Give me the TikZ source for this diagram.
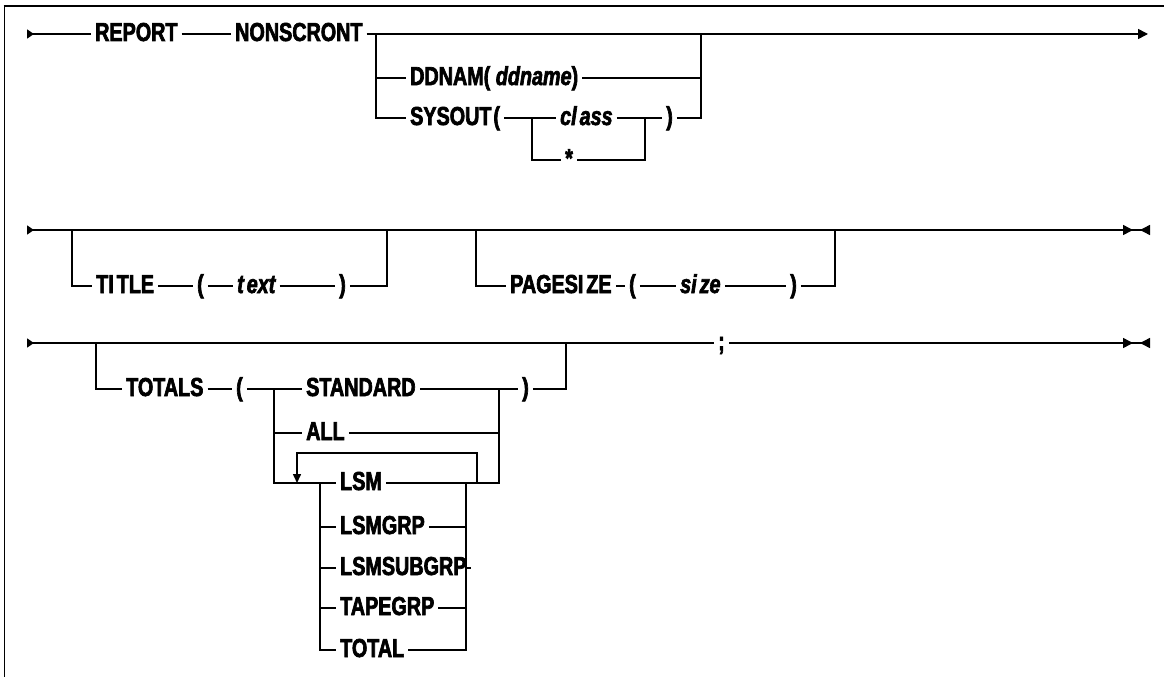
\documentclass[tikz,border=0pt]{standalone}
\usepackage{fontspec}
\setmainfont{Liberation Sans}[FakeStretch=0.76, FakeBold=2.5]
\usetikzlibrary{arrows.meta}
\tikzset{
  % A keyword on the rail
  kw/.style={
    font=\fontsize{26}{30}\selectfont\bfseries, anchor=west,
    inner xsep=4pt, inner ysep=0pt, text height=14pt, text depth=0pt},
  % A variable on the rail
  var/.style={kw, font=\fontsize{26}{30}\selectfont\bfseries\itshape},
  % Rails
  rail/.style={draw=black, line width=1.5pt},
  railin/.style={{Triangle[reversed, length=7pt, width=9pt]}-},
  railout/.style={-{Triangle[length=10pt, width=10pt]}},
  railstop/.style={-{Triangle[length=10pt, width=10pt, sep=7pt]Triangle[reversed, length=10pt, width=10pt]}},
  railthru/.style={{Triangle[reversed, length=7pt, width=9pt]}-{Triangle[length=10pt, width=10pt, sep=7pt]Triangle[reversed, length=10pt, width=10pt]}},
  loopback/.style={-{Triangle[length=9pt, width=8pt]}},
}

\begin{document}
\begin{tikzpicture}[x=1pt, y=-1pt]
  \useasboundingbox (0,0) rectangle (1164,677);

  \draw[line width=2pt] (3.5,6) -- (1164,6);
  \draw[line width=1pt] (4,6) -- (4,677);

  % first line
  \coordinate (s1) at (27,34);
  \coordinate (b1l) at (376,34);
  \coordinate (b1r) at (701,34);
  \coordinate (e1) at (1148,34);
  \coordinate (c1l) at (532,118);
  \coordinate (c1r) at (645,118);
  \node[kw] (report) at (91,34) {REPORT};
  \node[kw] (nonscront) at (231,34) {NONSCRONT};
  \node[kw] (ddnam) at (406,78) {DDNAM( \textit{ddname})};
  \node[kw] (sysout) at (406,118) {SYSOUT\kern2pt(};
  \node[var] (class) at (556,118) {cl\kern3pt ass};
  \node[kw] (rp1) at (662,118) {)};
  \node[kw] (star) at (561,160) {*};

  \draw[rail, railin] (s1) -- (report);
  \draw[rail] (report) -- (nonscront);
  \draw[rail, railout] (nonscront) -- (e1);
  \draw[rail] (b1l) |- (sysout) (ddnam -| b1l) -- (ddnam) -- (ddnam -| b1r);
  \draw[rail] (rp1) -| (b1r);
  \draw[rail] (sysout) -- (class) -- (rp1);
  \draw[rail] (c1l) |- (star) -| (c1r);

  % second line
  \coordinate (s2) at (27,230);
  \coordinate (e2) at (1150,230);
  \coordinate (t2l) at (72,230);
  \coordinate (t2r) at (387,230);
  \coordinate (p2l) at (476,230);
  \coordinate (p2r) at (835,230);
  \node[kw] (title) at (92,286) {TI\kern3pt TLE};
  \node[kw] (lp2) at (193,286) {(};
  \node[var] (textarg) at (233,286) {t\kern3pt ext};
  \node[kw] (rp2) at (335,286) {)};
  \node[kw] (pagesize) at (506,286) {PAGESI\kern3pt ZE};
  \node[kw] (lp2b) at (625,286) {(};
  \node[var] (sizearg) at (676,286) {si\kern3pt ze};
  \node[kw] (rp2b) at (786,286) {)};

  \draw[rail, railthru] (s2) -- (e2);
  \draw[rail] (t2l) |- (title) -- (lp2) -- (textarg) -- (rp2) -| (t2r);
  \draw[rail] (p2l) |- (pagesize) -- (lp2b) -- (sizearg) -- (rp2b) -| (p2r);

  % third line
  \coordinate (s3) at (27,343);
  \coordinate (e3) at (1150,343);
  \coordinate (o3l) at (96,343);
  \coordinate (o3r) at (566,343);
  \coordinate (i3l) at (274,389);
  \coordinate (i3r) at (499,389);
  \coordinate (b3l) at (320,483);
  \coordinate (b3r) at (466,483);
  \coordinate (loopr) at (477,483);
  \coordinate (loopa) at (297,483);
  \node[kw] (semi) at (714,343) {;};
  \node[kw] (totals) at (122,389) {TOTALS};
  \node[kw] (lp3) at (232,389) {(};
  \node[kw] (standard) at (302,389) {STANDARD};
  \node[kw] (rp3) at (518,389) {)};
  \node[kw] (all) at (302,433) {ALL};
  \node[kw] (lsm) at (336,483) {LSM};
  \node[kw] (lsmgrp) at (336,527) {LSMGRP};
  \node[kw] (lsmsubgrp) at (336,568) {LSMSUBGRP};
  \node[kw] (tapegrp) at (336,608) {TAPEGRP};
  \node[kw] (total) at (336,650) {TOTAL};

  \draw[rail, railin] (s3) -- (semi);
  \draw[rail, railstop] (semi) -- (e3);
  \draw[rail] (o3l) |- (totals) -- (lp3) -- (standard) -- (rp3) -| (o3r);
  \draw[rail] (i3l) |- (all) -| (i3r);
  \draw[rail] (i3l) |- (lsm) -| (i3r);
  \draw[rail] (b3l) |- (total) -| (b3r);
  \draw[rail] (b3l |- lsmgrp) -- (lsmgrp) -- (lsmgrp -| b3r);
  \draw[rail] (b3l |- lsmsubgrp) -- (lsmsubgrp) -- (lsmsubgrp -| b3r);
  \draw[rail] (b3l |- tapegrp) -- (tapegrp) -- (tapegrp -| b3r);
  \draw[rail, loopback] (loopr) -- ++(0,-30) -| (loopa);

\end{tikzpicture}
\end{document}
